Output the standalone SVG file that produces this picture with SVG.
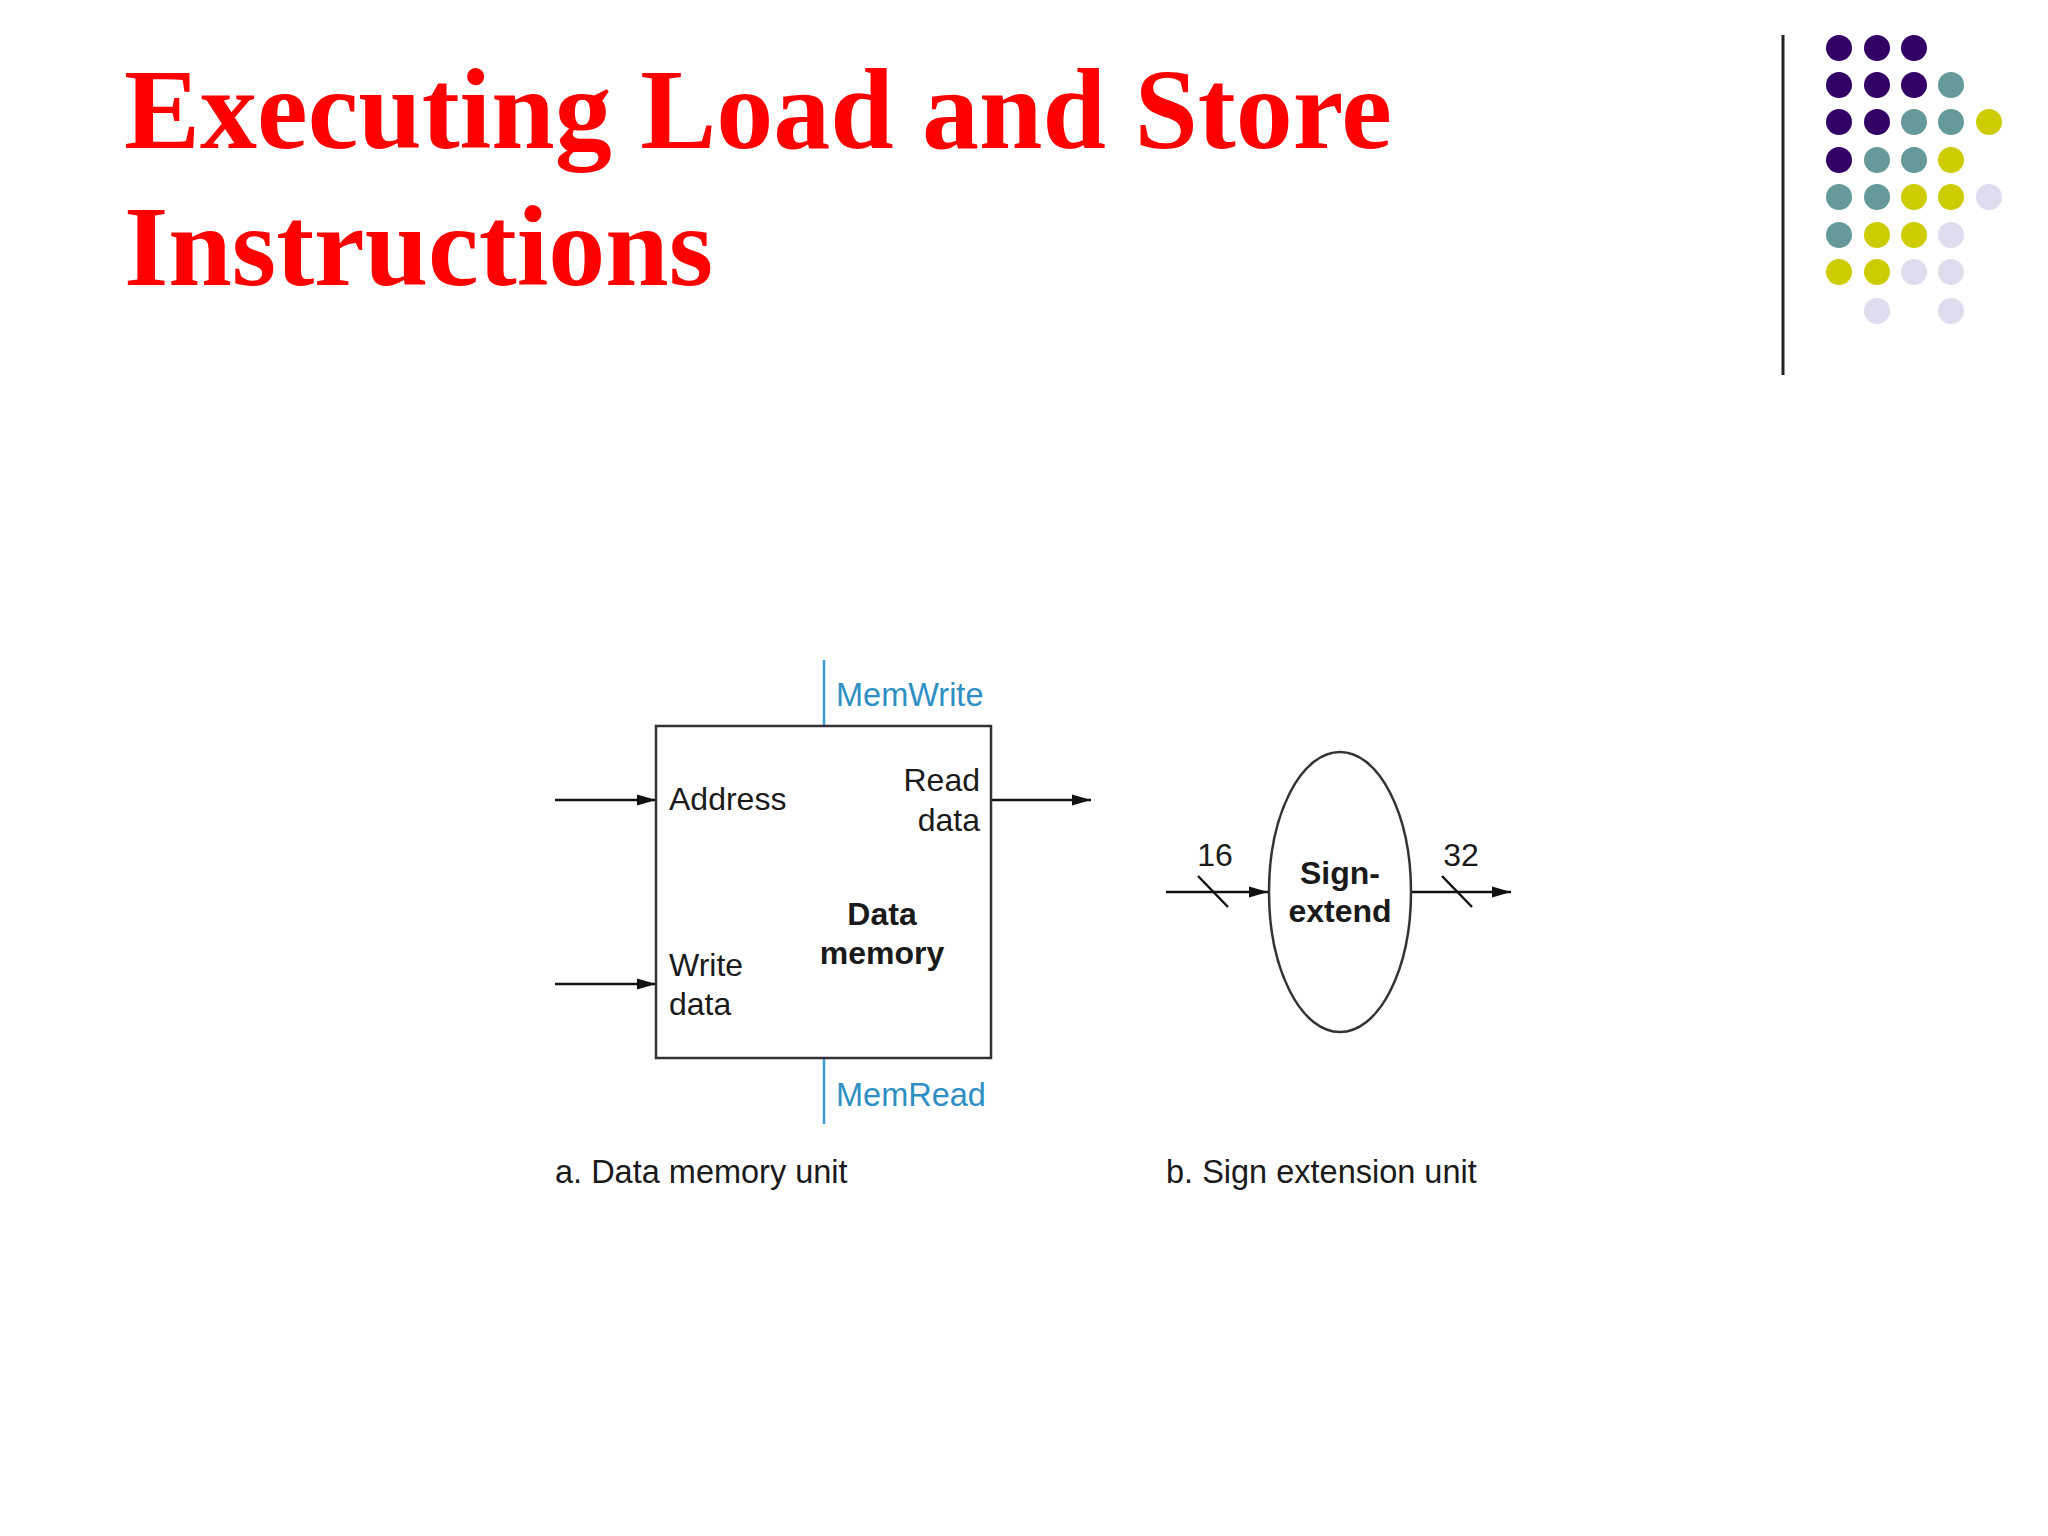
<svg xmlns="http://www.w3.org/2000/svg" width="2048" height="1536" viewBox="0 0 2048 1536">
<style>
.title{font-family:"Liberation Serif","Times New Roman",serif;font-weight:bold;font-size:114px;fill:#ff0000}
.lbl{font-family:"Liberation Sans",Arial,sans-serif;font-size:32px;fill:#1a1a1a}
.cap{font-size:32.5px}
.bold{font-weight:bold}
.ctl{font-family:"Liberation Sans",Arial,sans-serif;font-size:32.5px;fill:#2f8fc4}
.wire{stroke:#111;stroke-width:2.5;fill:none}
.cwire{stroke:#3a9ad0;stroke-width:2.5;fill:none}
.shape{stroke:#333;stroke-width:2.5;fill:#fff}
.p{fill:#330066}.t{fill:#669999}.y{fill:#cccc00}.l{fill:#ddddee}
</style>
<defs>
<marker id="arr" markerUnits="userSpaceOnUse" markerWidth="20" markerHeight="12" refX="19" refY="6" orient="auto">
<path d="M0,0.5 L19,6 L0,11.5 Z" fill="#111"/>
</marker>
</defs>
<rect width="2048" height="1536" fill="#fff"/>
<g id="title">
<text class="title" x="124" y="148">Executing Load and Store</text>
<text class="title" x="124" y="285">Instructions</text>
</g>
<g id="decoration">
<line x1="1783" y1="35" x2="1783" y2="375" stroke="#222" stroke-width="3"/>
<circle class="p" cx="1839" cy="48" r="13"/><circle class="p" cx="1877" cy="48" r="13"/><circle class="p" cx="1914" cy="48" r="13"/>
<circle class="p" cx="1839" cy="85" r="13"/><circle class="p" cx="1877" cy="85" r="13"/><circle class="p" cx="1914" cy="85" r="13"/><circle class="t" cx="1951" cy="85" r="13"/>
<circle class="p" cx="1839" cy="122" r="13"/><circle class="p" cx="1877" cy="122" r="13"/><circle class="t" cx="1914" cy="122" r="13"/><circle class="t" cx="1951" cy="122" r="13"/><circle class="y" cx="1989" cy="122" r="13"/>
<circle class="p" cx="1839" cy="160" r="13"/><circle class="t" cx="1877" cy="160" r="13"/><circle class="t" cx="1914" cy="160" r="13"/><circle class="y" cx="1951" cy="160" r="13"/>
<circle class="t" cx="1839" cy="197" r="13"/><circle class="t" cx="1877" cy="197" r="13"/><circle class="y" cx="1914" cy="197" r="13"/><circle class="y" cx="1951" cy="197" r="13"/><circle class="l" cx="1989" cy="197" r="13"/>
<circle class="t" cx="1839" cy="235" r="13"/><circle class="y" cx="1877" cy="235" r="13"/><circle class="y" cx="1914" cy="235" r="13"/><circle class="l" cx="1951" cy="235" r="13"/>
<circle class="y" cx="1839" cy="272" r="13"/><circle class="y" cx="1877" cy="272" r="13"/><circle class="l" cx="1914" cy="272" r="13"/><circle class="l" cx="1951" cy="272" r="13"/>
<circle class="l" cx="1877" cy="311" r="13"/><circle class="l" cx="1951" cy="311" r="13"/>
</g>
<g id="connectors">
<line class="cwire" x1="824" y1="660" x2="824" y2="726"/>
<line class="cwire" x1="824" y1="1058" x2="824" y2="1124"/>
<line class="wire" x1="555" y1="800" x2="656" y2="800" marker-end="url(#arr)"/>
<line class="wire" x1="555" y1="984" x2="656" y2="984" marker-end="url(#arr)"/>
<line class="wire" x1="991" y1="800" x2="1091" y2="800" marker-end="url(#arr)"/>
<line class="wire" x1="1166" y1="892" x2="1268" y2="892" marker-end="url(#arr)"/>
<line class="wire" x1="1198" y1="876" x2="1228" y2="907"/>
<line class="wire" x1="1411" y1="892" x2="1511" y2="892" marker-end="url(#arr)"/>
<line class="wire" x1="1442" y1="876" x2="1472" y2="907"/>
</g>
<g id="data-memory">
<rect class="shape" x="656" y="726" width="335" height="332"/>
<text class="lbl" x="669" y="810">Address</text>
<text class="lbl" x="980" y="791" text-anchor="end">Read</text>
<text class="lbl" x="980" y="831" text-anchor="end">data</text>
<text class="lbl" x="669" y="976">Write</text>
<text class="lbl" x="669" y="1015">data</text>
<text class="lbl bold" x="882" y="925" text-anchor="middle">Data</text>
<text class="lbl bold" x="882" y="964" text-anchor="middle">memory</text>
</g>
<g id="memwrite-label"><text class="ctl" x="836" y="706">MemWrite</text></g>
<g id="memread-label"><text class="ctl" x="836" y="1106">MemRead</text></g>
<g id="sign-extend">
<ellipse class="shape" cx="1340" cy="892" rx="71" ry="140"/>
<text class="lbl bold" x="1340" y="884" text-anchor="middle">Sign-</text>
<text class="lbl bold" x="1340" y="922" text-anchor="middle">extend</text>
</g>
<g id="bus-widths">
<text class="lbl" x="1215" y="866" text-anchor="middle">16</text>
<text class="lbl" x="1461" y="866" text-anchor="middle">32</text>
</g>
<g id="captions">
<text class="lbl cap" x="555" y="1183">a. Data memory unit</text>
<text class="lbl cap" x="1166" y="1183">b. Sign extension unit</text>
</g>
</svg>
